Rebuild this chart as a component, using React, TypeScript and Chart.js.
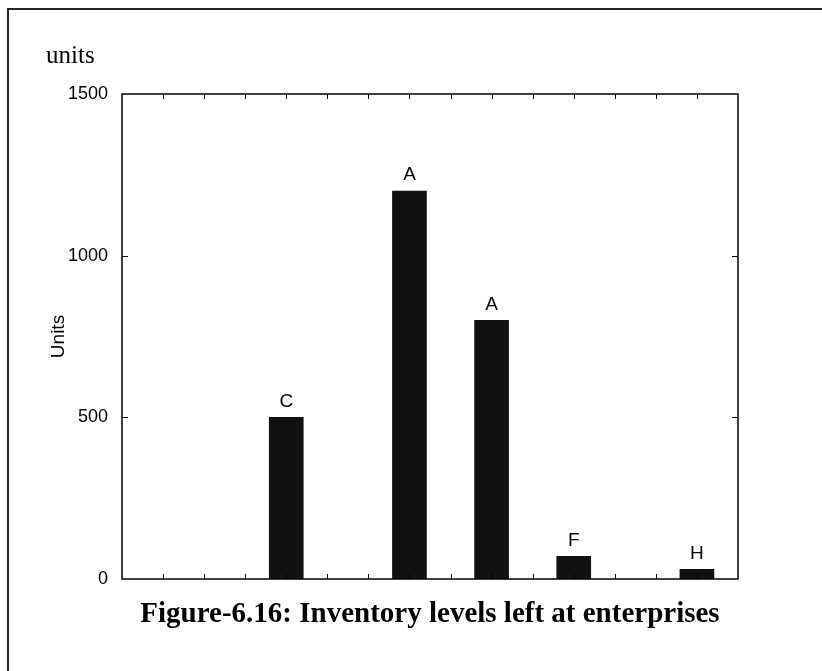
import React, { useEffect, useRef } from "react";
import { Chart, registerables } from "chart.js";

Chart.register(...registerables);

// ---- data ----
const positions = [4, 7, 9, 11, 14];
const values = [500, 1200, 800, 70, 30];
const barLabels = ["C", "A", "A", "F", "H"];
const yTicks = [0, 500, 1000, 1500];
const xMin = 0;
const xMax = 15;
const yAxisTitle = "Units";
const unitLabel = "units";
const caption = "Figure-6.16: Inventory levels left at enterprises";

const SANS = '"Liberation Sans", Arial, sans-serif';
const SERIF = '"Liberation Serif", "Times New Roman", serif';

const framePlugin = {
  id: "frame",
  afterDatasetsDraw(chart: any) {
    const { ctx, chartArea: a, scales } = chart;
    const x = scales.x;
    const y = scales.y;
    ctx.save();
    // bar labels
    const meta = chart.getDatasetMeta(0);
    ctx.font = `19px ${SANS}`;
    ctx.fillStyle = "#000";
    ctx.textAlign = "center";
    ctx.textBaseline = "middle";
    meta.data.forEach((bar: any, i: number) => {
      ctx.fillText(barLabels[i], bar.x, bar.y - 16);
    });
    // frame
    ctx.strokeStyle = "#000";
    ctx.lineWidth = 1.5;
    ctx.strokeRect(a.left, a.top, a.right - a.left, a.bottom - a.top);
    // inward ticks
    ctx.lineWidth = 1;
    for (let k = xMin + 1; k < xMax; k++) {
      const px = Math.round(x.getPixelForValue(k)) + 0.5;
      ctx.beginPath();
      ctx.moveTo(px, a.top);
      ctx.lineTo(px, a.top + 5);
      ctx.moveTo(px, a.bottom);
      ctx.lineTo(px, a.bottom - 5);
      ctx.stroke();
    }
    yTicks.slice(1, -1).forEach((v) => {
      const py = Math.round(y.getPixelForValue(v)) + 0.5;
      ctx.beginPath();
      ctx.moveTo(a.left, py);
      ctx.lineTo(a.left + 6, py);
      ctx.moveTo(a.right, py);
      ctx.lineTo(a.right - 6, py);
      ctx.stroke();
    });
    ctx.restore();
  },
};

export default function App() {
  const ref = useRef<HTMLCanvasElement | null>(null);

  useEffect(() => {
    if (!ref.current) return;
    const chart = new Chart(ref.current, {
      type: "bar",
      data: {
        datasets: [
          {
            data: positions.map((p, i) => ({ x: p, y: values[i] })),
            backgroundColor: "#111111",
            borderWidth: 0,
            barThickness: 34,
          },
        ],
      },
      options: {
        responsive: false,
        animation: false,
        layout: { padding: { top: 94, right: 84, bottom: 92, left: 0 } },
        plugins: {
          legend: { display: false },
          tooltip: { enabled: false },
        },
        scales: {
          x: {
            type: "linear",
            min: xMin,
            max: xMax,
            display: false,
            offset: false,
          },
          y: {
            min: 0,
            max: 1500,
            afterBuildTicks: (s: any) => {
              s.ticks = yTicks.map((v) => ({ value: v }));
            },
            ticks: {
              padding: 6,
              color: "#000",
              font: { family: SANS, size: 18 },
              callback: (v: any) => String(v),
            },
            grid: { display: false },
            border: { display: false },
            title: {
              display: true,
              text: yAxisTitle,
              color: "#000",
              font: { family: SANS, size: 19 },
              padding: { top: 47, bottom: 0 },
            },
            afterFit: (s: any) => {
              s.width = 122;
            },
          },
        },
      } as any,
      plugins: [framePlugin],
    });
    return () => chart.destroy();
  }, []);

  return (
    <div
      style={{
        position: "fixed",
        left: 0,
        top: 0,
        width: 822,
        height: 671,
        overflow: "hidden",
        background: "#fff",
      }}
    >
      <div
        style={{
          position: "absolute",
          left: 7,
          top: 8,
          width: 900,
          height: 760,
          border: "2px solid #222",
          boxSizing: "border-box",
        }}
      />
      <canvas
        ref={ref}
        width={822}
        height={671}
        style={{ position: "absolute", left: 0, top: 0, width: 822, height: 671 }}
      />
      <div
        style={{
          position: "absolute",
          left: 46,
          top: 42,
          fontFamily: SERIF,
          fontSize: 25,
          lineHeight: 1,
          color: "#000",
          whiteSpace: "nowrap",
        }}
      >
        {unitLabel}
      </div>
      <div
        style={{
          position: "absolute",
          left: 122,
          width: 616,
          top: 598,
          fontFamily: SERIF,
          fontSize: 29,
          fontWeight: "bold",
          lineHeight: 1,
          color: "#000",
          textAlign: "center",
          whiteSpace: "nowrap",
        }}
      >
        {caption}
      </div>
    </div>
  );
}
